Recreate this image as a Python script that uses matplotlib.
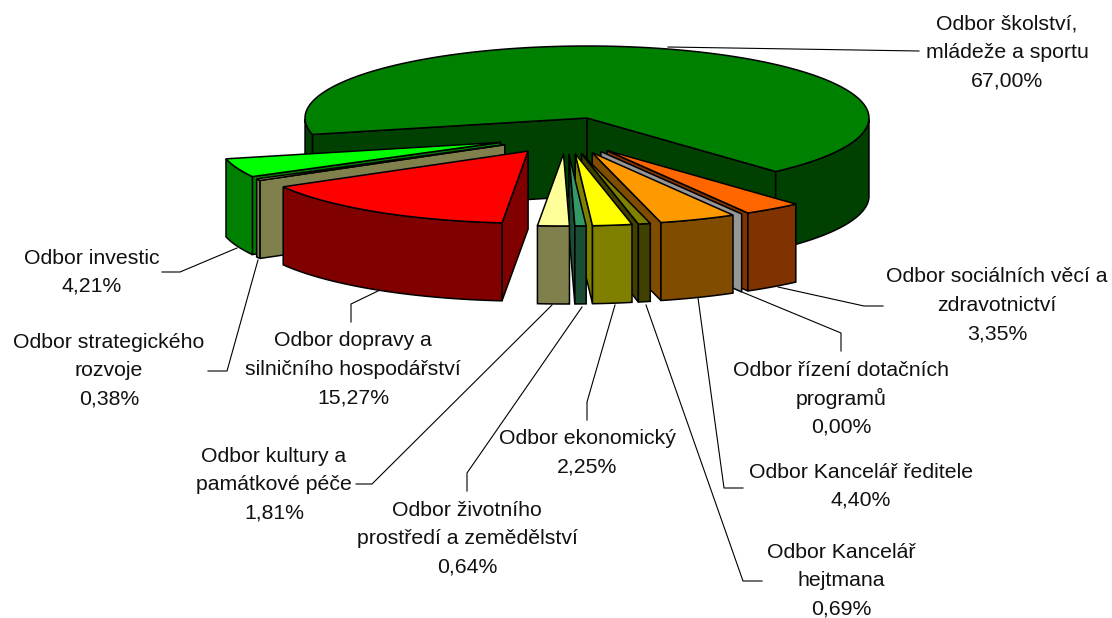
import numpy as np
import matplotlib
matplotlib.use("Agg")
import matplotlib.pyplot as plt

# data
odbory = ["Odbor školství,\nmládeže a sportu", "Odbor sociálních věcí a\nzdravotnictví",
          "Odbor řízení dotačních\nprogramů", "Odbor Kancelář ředitele",
          "Odbor Kancelář\nhejtmana", "Odbor ekonomický",
          "Odbor životního\nprostředí a zemědělství", "Odbor kultury a\npamátkové péče",
          "Odbor dopravy a\nsilničního hospodářství", "Odbor strategického\nrozvoje",
          "Odbor investic"]
podil = [67.00, 3.35, 0.00, 4.40, 0.69, 2.25, 0.64, 1.81, 15.27, 0.38, 4.21]

barva_top = ["#008000", "#FF6600", "#969696", "#FF9900", "#808000", "#FFFF00",
             "#339966", "#FFFF99", "#FF0000", "#FFFF99", "#00FF00"]
barva_bok = ["#004000", "#803300", "#969696", "#804C00", "#404000", "#808000",
             "#1A4D33", "#80804C", "#800000", "#80804C", "#008000"]

# layout of the pie, in pixels
STRED = (587, 118)
A, B = 282, 72
HLOUBKA = 78
START = 193.2
STRED_VYS = (566, 136)
VYS_X, VYS_Y = 70, 18

# label centre x, first line y
popisky = [(1007, 24), (997, 277), (841, 370), (861, 472), (841, 552), (587, 439),
           (467, 510), (274, 456), (353, 341), (109, 342), (92, 258)]
RADEK = 28.3

# leader polylines
vodici = [[(919, 51), (668, 47)],
          [(883, 306), (864, 306), (778, 287)],
          [(841, 351), (841, 333), (742, 292)],
          [(743, 488), (724, 488), (698, 298)],
          [(762, 581), (743, 581), (646, 305)],
          [(587, 420), (587, 402), (615, 305)],
          [(467, 491), (467, 473), (582, 307)],
          [(356, 484), (372, 484), (552, 305)],
          [(351, 322), (351, 304), (378, 291)],
          [(208, 371), (227, 371), (258, 260)],
          [(162, 272), (180, 272), (237, 248)]]

plt.rcParams["font.family"] = ["Liberation Sans", "DejaVu Sans"]
fig = plt.figure(figsize=(11.12, 6.18), dpi=100)
ax = fig.add_axes([0, 0, 1, 1])
ax.set_xlim(0, 1112)
ax.set_ylim(618, 0)
ax.axis("off")


def bod(cx, cy, t):
    t = np.radians(t)
    return cx + A * np.cos(t), cy - B * np.sin(t)


def poly(xs, ys, barva, z):
    ax.fill(xs, ys, facecolor=barva, edgecolor="black", lw=1.1, zorder=z, joinstyle="miter")


def kresli(cx, cy, t1, t2, top, bok, z):
    # t1 > t2, clockwise. a cut face shows only if it turns towards the viewer
    for t, videt in ((t1, np.cos(np.radians(t1)) < 0), (t2, np.cos(np.radians(t2)) > 0)):
        if videt:
            x, y = bod(cx, cy, t)
            poly([cx, x, x, cx], [cy, y, y + HLOUBKA, cy + HLOUBKA], bok, z)
    if t1 == t2:
        return
    ts = np.linspace(t1, t2, 200)
    # only the part of the rim that faces us gets a wall
    predni = ts[np.sin(np.radians(ts)) <= 0.0]
    if len(predni) > 1:
        skok = np.where(np.diff(predni) < -2)[0]
        for kus in np.split(predni, skok + 1):
            x, y = bod(cx, cy, kus)
            poly(np.r_[x, x[::-1]], np.r_[y, y[::-1] + HLOUBKA], bok, z + 0.1)
    x, y = bod(cx, cy, ts)
    poly(np.r_[cx, x], np.r_[cy, y], top, z + 0.2)


uhly = START - np.cumsum([0] + podil) * 3.6

# the big slice stays in place, the rest is pulled out
kresli(STRED[0], STRED[1], uhly[0], uhly[1], barva_top[0], barva_bok[0], 1)

poradi_vpravo = list(range(1, 8))
poradi_vlevo = [10, 9, 8]
for z, i in enumerate(poradi_vlevo + poradi_vpravo):
    stred_uhel = np.radians((uhly[i] + uhly[i + 1]) / 2)
    cx = STRED_VYS[0] + VYS_X * np.cos(stred_uhel)
    cy = STRED_VYS[1] - VYS_Y * np.sin(stred_uhel)
    kresli(cx, cy, uhly[i], uhly[i + 1], barva_top[i], barva_bok[i], 2 + z)

for cara in vodici:
    xs, ys = zip(*cara)
    ax.plot(xs, ys, color="black", lw=0.8, zorder=30)

for nazev, hodnota, (px, py) in zip(odbory, podil, popisky):
    radky = nazev.split("\n") + [f"{hodnota:.2f}%".replace(".", ",")]
    for k, r in enumerate(radky):
        ax.text(px, py + k * RADEK, r, ha="center", va="center", fontsize=15.3,
                color="#111111", zorder=40)

fig.savefig("out.png", dpi=100)
